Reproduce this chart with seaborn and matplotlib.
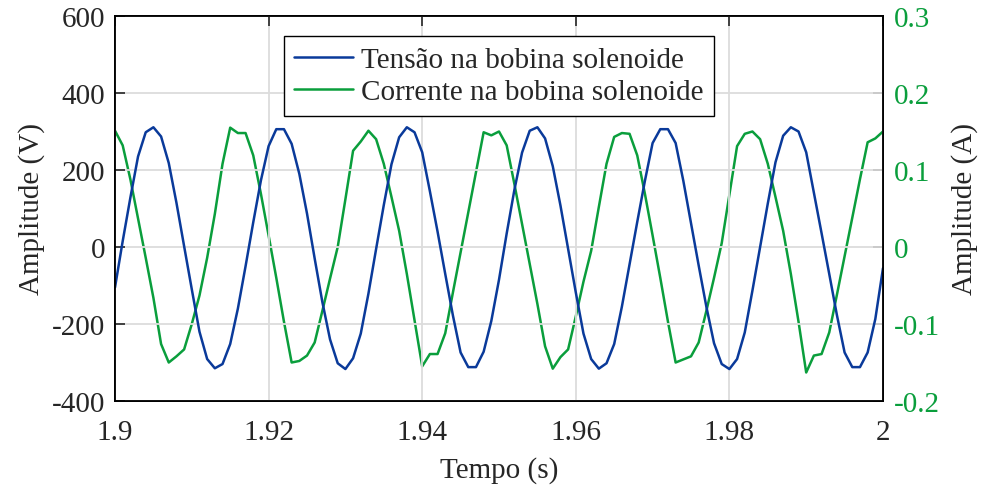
import numpy as np
import pandas as pd
import matplotlib
matplotlib.use("Agg")
import matplotlib.pyplot as plt
import seaborn as sns

# Sampled waveforms: 1 ms steps from 1.900 s to 2.000 s
t_start = 1.9
t_step = 0.001

tensao_v = [
    -105, 15, 128, 235, 298, 311, 287, 218, 115, 2,
    -110, -220, -291, -315, -304, -252, -160, -50, 64, 173,
    262, 306, 306, 268, 190, 87, -30, -143, -240, -302,
    -317, -289, -225, -121, -5, 109, 215, 285, 311, 298,
    246, 145, 40, -70, -178, -274, -312, -312, -272, -192,
    -85, 35, 148, 245, 302, 311, 282, 210, 108, -5,
    -118, -225, -291, -316, -302, -252, -155, -45, 65, 172,
    270, 306, 306, 270, 172, 62, -48, -155, -250, -304,
    -317, -291, -222, -113, 0, 113, 220, 289, 311, 300,
    246, 141, 36, -70, -177, -274, -312, -312, -274, -187,
    -55,
]

corrente_a = [
    0.151, 0.132, 0.088, 0.037, -0.014, -0.066, -0.126, -0.150, -0.142, -0.133,
    -0.100, -0.063, -0.014, 0.043, 0.108, 0.155, 0.148, 0.148, 0.119, 0.069,
    0.015, -0.040, -0.097, -0.150, -0.148, -0.141, -0.124, -0.083, -0.041, 0.000,
    0.062, 0.125, 0.137, 0.151, 0.140, 0.108, 0.065, 0.021, -0.035, -0.095,
    -0.155, -0.139, -0.139, -0.112, -0.059, -0.007, 0.045, 0.097, 0.149, 0.145,
    0.150, 0.132, 0.082, 0.030, -0.022, -0.074, -0.129, -0.158, -0.143, -0.133,
    -0.090, -0.045, -0.005, 0.052, 0.108, 0.143, 0.148, 0.147, 0.119, 0.069,
    0.015, -0.040, -0.097, -0.150, -0.146, -0.142, -0.124, -0.083, -0.040, 0.005,
    0.068, 0.131, 0.147, 0.150, 0.140, 0.108, 0.065, 0.021, -0.035, -0.097,
    -0.163, -0.141, -0.139, -0.111, -0.062, -0.012, 0.038, 0.088, 0.136, 0.141,
    0.150,
]

x_ticks = [1.9, 1.92, 1.94, 1.96, 1.98, 2.0]
x_tick_labels = ["1.9", "1.92", "1.94", "1.96", "1.98", "2"]
v_ticks = [-400, -200, 0, 200, 400, 600]
v_tick_labels = ["-400", "-200", "0", "200", "400", "600"]
a_ticks = [-0.2, -0.1, 0.0, 0.1, 0.2, 0.3]
a_tick_labels = ["-0.2", "-0.1", "0", "0.1", "0.2", "0.3"]

label_v = "Tensão na bobina solenoide"
label_a = "Corrente na bobina solenoide"

blue = "#0a3a9a"
green = "#0a9e3c"

sns.set_style("white")
plt.rcParams["font.family"] = ["Liberation Serif", "DejaVu Serif"]
plt.rcParams["axes.unicode_minus"] = False

n = len(tensao_v)
tempo = [t_start + i * t_step for i in range(n)]
df = pd.DataFrame({"tempo": tempo, "tensao": tensao_v, "corrente": corrente_a})

fs = 21
fig = plt.figure(figsize=(9.81, 4.89), dpi=100)
ax = fig.add_axes([115 / 981, 1 - 402 / 489, 768 / 981, 385 / 489])
ax2 = ax.twinx()

sns.lineplot(data=df, x="tempo", y="tensao", ax=ax, color=blue, lw=1.8,
             label=label_v, legend=False)
sns.lineplot(data=df, x="tempo", y="corrente", ax=ax2, color=green, lw=1.8,
             label=label_a, legend=False)

ax.set_xlim(1.9, 2.0)
ax.set_ylim(-400, 600)
ax2.set_ylim(-0.2, 0.3)

ax.set_xticks(x_ticks)
ax.set_xticklabels(x_tick_labels, fontsize=fs)
ax.set_yticks(v_ticks)
ax.set_yticklabels(v_tick_labels, fontsize=fs)
ax2.set_yticks(a_ticks)
ax2.set_yticklabels(a_tick_labels, fontsize=fs, color=green)

ax.grid(True, color="#dcdcdc", lw=1.3)
ax.set_axisbelow(True)

ax.tick_params(axis="y", direction="in", length=7, width=1.2,
               right=False, pad=7)
ax.tick_params(axis="x", direction="in", length=7, width=1.2,
               top=True, pad=13)
ax2.tick_params(axis="y", direction="in", length=7, width=1.2, pad=8,
                labelcolor=green, color="black")

for a in (ax, ax2):
    for s in a.spines.values():
        s.set_color("black")
        s.set_linewidth(1.3)

ax.set_xlabel("Tempo (s)", fontsize=fs, labelpad=8)
ax.set_ylabel("Amplitude (V)", fontsize=fs, labelpad=5)
ax2.set_ylabel("Amplitude (A)", fontsize=fs, labelpad=8)

handles = ax.get_lines()[:1] + ax2.get_lines()[:1]
leg = ax.legend(handles, [label_v, label_a], loc="upper center",
                fontsize=fs, frameon=True, fancybox=False,
                edgecolor="black", framealpha=1, borderaxespad=0.7,
                handlelength=2.0, handletextpad=0.3, borderpad=0.35,
                labelspacing=0.2)
leg.get_frame().set_linewidth(1.0)
leg.set_zorder(10)
ax.set_zorder(ax2.get_zorder() + 1)
ax.patch.set_visible(False)

fig.savefig("out.png", dpi=100)
